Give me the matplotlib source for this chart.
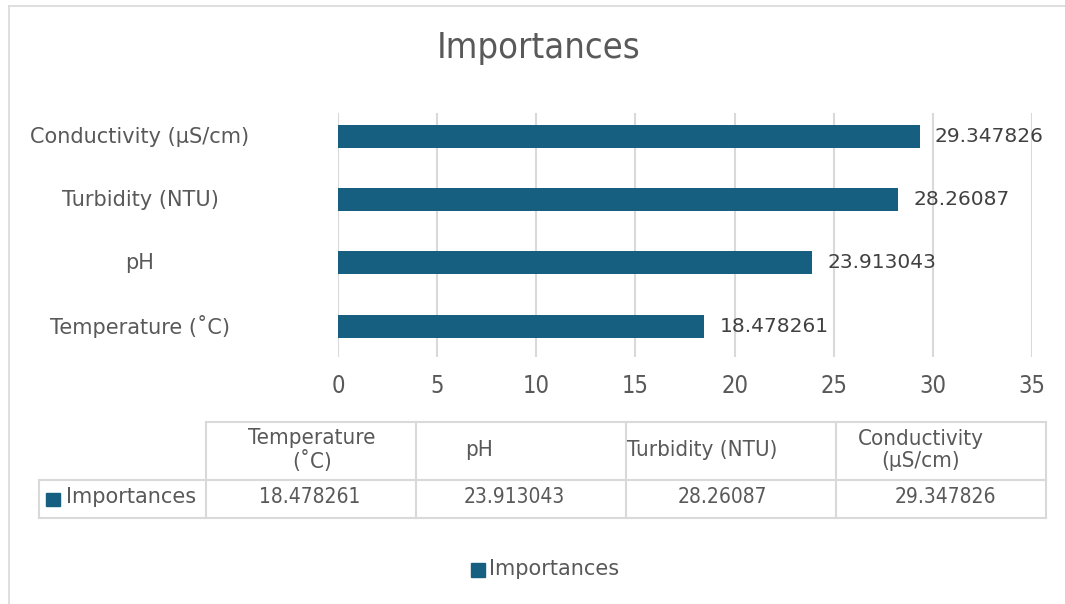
import matplotlib
matplotlib.use("Agg")
import matplotlib.pyplot as plt
from matplotlib.lines import Line2D
from matplotlib.patches import Rectangle
from matplotlib import font_manager

# ---- data ----
categories = ["Temperature (˚C)", "pH", "Turbidity (NTU)", "Conductivity (µS/cm)"]
table_headers = ["Temperature\n(˚C)", "pH", "Turbidity (NTU)", "Conductivity\n(µS/cm)"]
importances = [18.478261, 23.913043, 28.26087, 29.347826]
series_name = "Importances"
title = "Importances"
xticks = [0, 5, 10, 15, 20, 25, 30, 35]

W, H = 1065, 604
DPI = 100
BAR = "#175F80"
TXT = "#595959"
DARK = "#404040"
GRID = "#D9D9D9"

fig = plt.figure(figsize=(W / DPI, H / DPI), dpi=DPI)
fig.patch.set_facecolor("white")

names = {f.name for f in font_manager.fontManager.ttflist}
cond_family = "Liberation Sans Narrow" if "Liberation Sans Narrow" in names else "DejaVu Sans"
COND = dict(family=[cond_family, "DejaVu Sans"], stretch="condensed")
REG = dict(family=["DejaVu Sans"])


def fx(px):
    return px / W


def fy(py):
    return 1 - py / H


# outer frame
fig.add_artist(Line2D([fx(9), fx(1065)], [fy(6), fy(6)], color=GRID, lw=1.2))
fig.add_artist(Line2D([fx(9), fx(9)], [fy(6), fy(604)], color=GRID, lw=1.2))

# title
fig.text(fx(539), fy(48), title, ha="center", va="center", fontsize=26, color=TXT, **COND)

# main axes
left, right, top, bottom = 338, 1032, 113, 357
ax = fig.add_axes([fx(left), fy(bottom), fx(right - left), (bottom - top) / H])
pos = list(range(len(categories)))
ax.barh(pos, importances, height=0.365, color=BAR, zorder=3)
ax.set_xlim(0, 35)
ax.set_ylim(-0.49, 3.372)
ax.set_xticks(xticks)
ax.set_xticklabels([str(t) for t in xticks], fontsize=17, color=TXT, **COND)
ax.set_yticks([])
ax.tick_params(axis="x", length=0, pad=12)
ax.grid(axis="x", color=GRID, lw=1.5, zorder=0)
for s in ax.spines.values():
    s.set_visible(False)
ax.set_facecolor("none")

for i, v in enumerate(importances):
    ax.annotate(str(v), xy=(v, i), xytext=(15, 0), textcoords="offset pixels",
                ha="left", va="center", fontsize=14.5, color=DARK, **REG)
    yc = ax.transData.transform((0, i))[1]
    fig.text(fx(140), yc / H, categories[i], ha="center", va="center",
             fontsize=15, color=TXT, **REG)

# ---- data table ----
cols = [206, 416, 626, 836, 1046]
ytop, ymid, ybot = 422, 480, 518
lkw = dict(color=GRID, lw=1.5)
fig.add_artist(Line2D([fx(cols[0]), fx(cols[-1])], [fy(ytop)] * 2, **lkw))
fig.add_artist(Line2D([fx(39), fx(cols[-1])], [fy(ymid)] * 2, **lkw))
fig.add_artist(Line2D([fx(39), fx(cols[-1])], [fy(ybot)] * 2, **lkw))
fig.add_artist(Line2D([fx(39), fx(39)], [fy(ymid), fy(ybot)], **lkw))
for c in cols:
    fig.add_artist(Line2D([fx(c), fx(c)], [fy(ytop), fy(ybot)], **lkw))

header_x = [312, 479, 702, 921]
for hx, h in zip(header_x, table_headers):
    fig.text(fx(hx), fy(450), h, ha="center", va="center", fontsize=16,
             color=TXT, linespacing=1.12, **COND)
value_x = [310, 514, 722, 945]
for vx, v in zip(value_x, importances):
    fig.text(fx(vx), fy(497), str(v), ha="center", va="center",
             fontsize=15, color=TXT, **COND)

fig.add_artist(Rectangle((fx(46), fy(506)), fx(14), 13 / H, color=BAR))
fig.text(fx(66), fy(497), series_name, ha="left", va="center", fontsize=15, color=TXT, **REG)

# legend
fig.add_artist(Rectangle((fx(471), fy(577)), fx(14), 14 / H, color=BAR))
fig.text(fx(489), fy(569), series_name, ha="left", va="center", fontsize=15, color=TXT, **REG)

fig.savefig("out.png", dpi=DPI, facecolor="white")
